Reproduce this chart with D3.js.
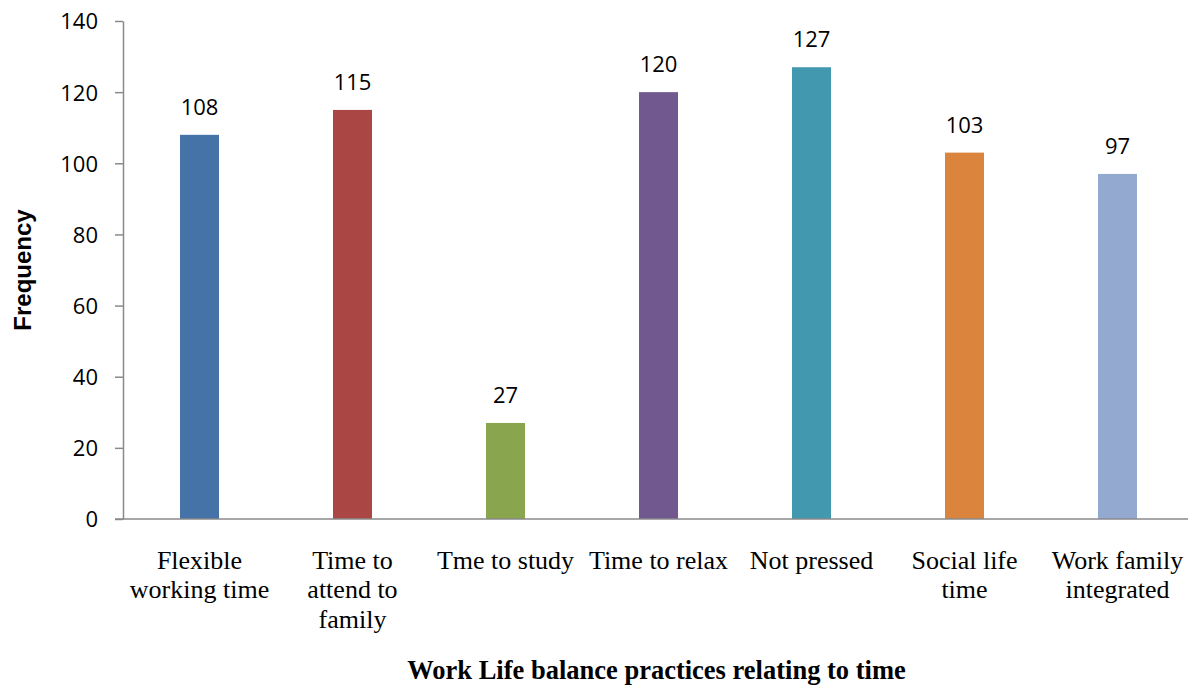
<!DOCTYPE html>
<html lang="en">
  <meta charset="utf-8" />
  <head>
    <title>Work Life balance practices relating to time</title>
    <script src="https://cdn.jsdelivr.net/npm/d3@7"></script>
    <style>
      body { margin: 0; background: #fff; }
      .tick-label, .val { font-family: "Open Sans", sans-serif; font-size: 22px; fill: #000; }
      .cat { font-family: "Liberation Serif", "Times New Roman", serif; font-size: 26px; fill: #000; }
    </style>
  </head>
  <body>
  <script>
    // DATA
    var categories = ["Flexible\nworking time", "Time to\nattend to\nfamily", "Tme to study",
                      "Time to relax", "Not pressed", "Social life\ntime", "Work family\nintegrated"];
    var frequency = [108, 115, 27, 120, 127, 103, 97];
    var barColors = ["#4572A7", "#AA4643", "#89A54E", "#71588F", "#4198AF", "#DB843D", "#93A9CF"];
    var yTicks = [0, 20, 40, 60, 80, 100, 120, 140];

    // CONFIG
    var width = 1188, height = 686;
    var plotLeft = 123, plotRight = 1194, plotTop = 21, plotBottom = 519;
    var barWidth = 39;
    var axisColor = "#8a8a8a";

    var svg = d3.select("body").append("svg")
        .attr("width", width)
        .attr("height", height);

    var x = d3.scaleBand()
        .domain(categories)
        .range([plotLeft, plotRight])
        .padding(0);

    var y = d3.scaleLinear()
        .domain([0, 140])
        .range([plotBottom, plotTop]);

    // bars
    svg.selectAll(".bar")
       .data(frequency)
       .enter()
      .append("rect")
        .attr("class", "bar")
        .attr("x", (d, i) => x(categories[i]) + x.bandwidth()/2 - barWidth/2)
        .attr("y", (d) => y(d))
        .attr("width", barWidth)
        .attr("height", (d) => y(0) - y(d))
        .attr("fill", (d, i) => barColors[i]);

    // value labels
    svg.selectAll(".val")
       .data(frequency)
       .enter()
      .append("text")
        .attr("class", "val")
        .attr("x", (d, i) => x(categories[i]) + x.bandwidth()/2)
        .attr("y", (d) => y(d) - 20)
        .attr("text-anchor", "middle")
        .text((d) => d);

    // y axis
    var yAxis = d3.axisLeft(y)
        .tickValues(yTicks)
        .tickSize(8)
        .tickPadding(17)
        .tickSizeOuter(0);

    var gy = svg.append("g")
        .attr("transform", `translate(${plotLeft},0)`)
        .call(yAxis);
    gy.attr("font-family", null).attr("font-size", null);
    gy.select(".domain").attr("stroke", axisColor).attr("stroke-width", 1.5);
    gy.selectAll(".tick line").attr("stroke", axisColor).attr("stroke-width", 1.5);
    gy.selectAll(".tick text")
      .attr("class", "tick-label")
      .attr("dy", "0.36em");

    // x axis (line only, labels drawn below)
    svg.append("line")
        .attr("x1", plotLeft - 8)
        .attr("x2", width)
        .attr("y1", y(0))
        .attr("y2", y(0))
        .attr("stroke", axisColor)
        .attr("stroke-width", 1.5);

    var cats = svg.selectAll(".cat")
       .data(categories)
       .enter()
      .append("text")
        .attr("class", "cat")
        .attr("text-anchor", "middle")
        .attr("x", (c) => x(c) + x.bandwidth()/2)
        .attr("y", 569);

    cats.each(function(c) {
      var t = d3.select(this);
      c.split("\n").forEach(function(line, i) {
        t.append("tspan")
          .attr("x", t.attr("x"))
          .attr("dy", i === 0 ? 0 : 29.3)
          .text(line);
      });
    });

    // axis titles
    svg.append("text")
        .attr("transform", `translate(31,270) rotate(-90)`)
        .attr("text-anchor", "middle")
        .style("font-family", "'Liberation Sans', Arial, sans-serif")
        .style("font-weight", "bold")
        .style("font-size", "24px")
        .text("Frequency");

    svg.append("text")
        .attr("x", (plotLeft + plotRight)/2 - 2)
        .attr("y", 679)
        .attr("text-anchor", "middle")
        .style("font-family", "'Liberation Serif', 'Times New Roman', serif")
        .style("font-weight", "bold")
        .style("font-size", "26.5px")
        .text("Work Life balance practices relating to time");

  </script>
  </body>
</html>
